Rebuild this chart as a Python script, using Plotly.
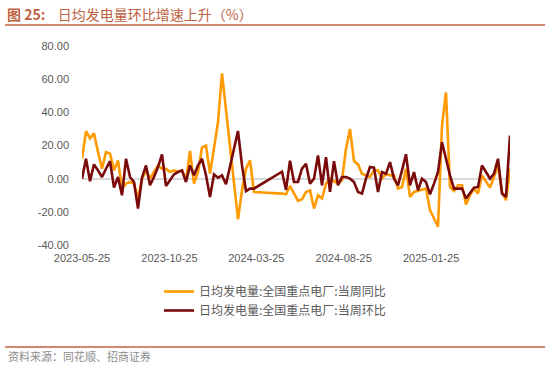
import plotly.graph_objects as go
import pandas as pd

# weekly observation dates (weeks 44-49 of the series are missing in the source)
week_dates = pd.date_range("2023-05-25", periods=108, freq="7D")
missing_weeks = set(range(44, 50))
dates = [d.strftime("%Y-%m-%d") for i, d in enumerate(week_dates) if i not in missing_weeks]

series_yoy_name = "日均发电量:全国重点电厂:当周同比"
series_wow_name = "日均发电量:全国重点电厂:当周环比"

yoy = [12.2, 28.7, 24.3, 27.3, 16, 6, 16, 15, 5, 11,
       -6, -3, -2, -3, -12, 0, 5, 0, 4, 8,
       6, 6, 4, 5, 4, 5, -1, 16.7, -3, 4,
       18.7, 20, 3, 19, 34, 63.5, 41, 19, -3, -24.5,
       -7, 6, 11, -8,
       -9, -9.4, -4.4, -9, -13.4, -12.4, -8, -7, -18, -10,
       -12, -3, 0, -1.5, -3, -1, 18, 30, 10.6, 8.6,
       3, 2, 1, 5, 5, 0, 3, 2, 2, -6,
       -5, 6, -11, -8, -7.4, -7, -6, -19, -24, -29,
       32, 52, -5, -7.4, -4, -4, -15.5, -10, -6, -9,
       2, -2, -5.4, 1, 8, -8, -13, 6]

wow = [0, 12, -1.5, 8.6, 5, 1, 6, 10.6, -5.4, 1,
       -10, 12, 1, -2, -18, 0.6, 8, -4, 1, 7,
       14.7, -4.4, -1, 2.6, 4, 5, -2, 8, 2, 8,
       12, 2, -11, 2.6, 0.6, 2, -3.4, 8, 18, 28.7,
       8, -7.5, -6, -6,
       4.2, -6.8, 10.8, -2, -2, 6, 9, -3, 0, 14,
       -4, 13, -8, 10.6, -4, 1, 1, 0, -2, -8,
       -9, 0, 7, 6.6, -8, 4, 3, 10, 0, -4,
       5, 14.7, -4, 4, -7, 0, -2, -9.4, -3, 4,
       22, 12, 2, -6, -6, -6, -12, -9, -5.4, -5,
       8, 4, 0, 3, 12, -9, -11, 26]

x_ticks = ["2023-05-25", "2023-10-25", "2024-03-25", "2024-08-25", "2025-01-25"]
y_ticks = [-40, -20, 0, 20, 40, 60, 80]

W, H = 550, 376
ML, MR, MT, MB = 82, 40, 46, 131
PW, PH = W - ML - MR, H - MT - MB


def px(xp):
    return (xp - ML) / PW


def py(yp):
    return (H - MB - yp) / PH


fig = go.Figure()
fig.add_trace(go.Scatter(x=dates, y=yoy, mode="lines", name=series_yoy_name,
                         line=dict(color="#FF9A00", width=2.6)))
fig.add_trace(go.Scatter(x=dates, y=wow, mode="lines", name=series_wow_name,
                         line=dict(color="#7A0A0A", width=2.6)))

font_cn = "Noto Sans CJK SC"
tick_font = dict(family="Liberation Sans, Noto Sans CJK SC", size=11, color="#595959")

fig.update_layout(
    width=W, height=H,
    margin=dict(l=ML, r=MR, t=MT, b=MB, autoexpand=False),
    paper_bgcolor="white", plot_bgcolor="white",
    showlegend=True,
    legend=dict(x=px(159), y=py(277), xanchor="left", yanchor="top",
                font=dict(family=font_cn, size=12, color="#595959"),
                bgcolor="rgba(0,0,0,0)", tracegroupgap=2),
    xaxis=dict(type="date", range=[dates[0], dates[-1]],
               tickvals=x_ticks, ticktext=x_ticks,
               showgrid=False, zeroline=False, showline=False,
               tickfont=tick_font, ticks="", ticklabelstandoff=5),
    yaxis=dict(range=[-40, 80], tickvals=y_ticks,
               ticktext=[f"{v:.2f}" for v in y_ticks],
               showgrid=False, zeroline=True, zerolinecolor="#D9D9D9",
               zerolinewidth=2, showline=False, tickfont=tick_font,
               ticks="", ticklabelstandoff=12),
)

title_color = "#C0623F"
fig.add_annotation(x=px(5), y=py(14), xref="paper", yref="paper",
                   xanchor="left", yanchor="middle", showarrow=False,
                   text="<b>图 25:</b>&nbsp;&nbsp;&nbsp;&nbsp;日均发电量环比增速上升（%）",
                   font=dict(family=font_cn, size=14, color=title_color))
fig.add_shape(type="line", xref="paper", yref="paper",
              x0=px(5), x1=px(545), y0=py(25), y1=py(25),
              line=dict(color=title_color, width=1.5))
fig.add_shape(type="line", xref="paper", yref="paper",
              x0=px(5), x1=px(545), y0=py(347), y1=py(347),
              line=dict(color=title_color, width=1.5))
fig.add_annotation(x=px(6), y=py(356), xref="paper", yref="paper",
                   xanchor="left", yanchor="middle", showarrow=False,
                   text="资料来源：同花顺、招商证券",
                   font=dict(family=font_cn, size=11, color="#8C8C8C"))

fig.write_html("out.html",
               config={"displayModeBar": False},
               post_script="document.body.style.margin='0';document.body.style.padding='0';")
